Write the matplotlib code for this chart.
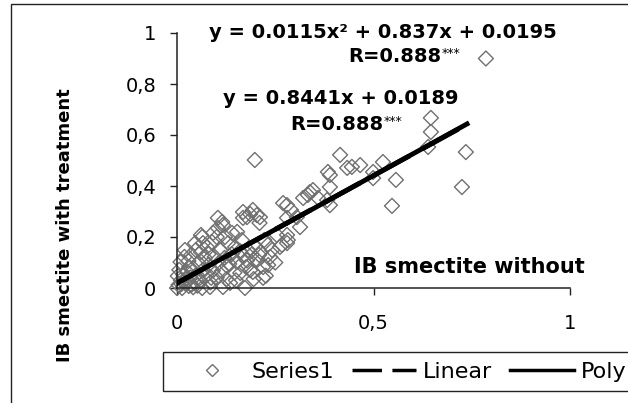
import numpy as np
import matplotlib
matplotlib.use("Agg")
import matplotlib.pyplot as plt
from matplotlib.lines import Line2D
from matplotlib.patches import Rectangle

# IB smectite: without treatment (x) vs with treatment (y)
ib_without = [
    0.786, 0.646, 0.646, 0.639, 0.735, 0.725, 0.557, 0.547, 0.524, 0.466,
    0.433, 0.499, 0.499, 0.415, 0.445, 0.384, 0.389, 0.389, 0.338, 0.346,
    0.321, 0.333, 0.382, 0.389, 0.359, 0.280, 0.270, 0.290, 0.280, 0.305,
    0.313, 0.280, 0.280, 0.254, 0.198, 0.193, 0.178, 0.211, 0.168, 0.186,
    0.203, 0.210, 0.168, 0.115, 0.104, 0.117,
    0.104, 0.092, 0.064, 0.061, 0.020, 0.140, 0.165, 0.148, 0.130, 0.122,
    0.153, 0.242, 0.267, 0.282, 0.262, 0.237, 0.219, 0.204, 0.193, 0.219,
    0.226, 0.161, 0.135, 0.117, 0.173, 0.084, 0.064, 0.087, 0.031, 0.066,
    0.048, 0.036, 0.046, 0.250, 0.232, 0.209, 0.186, 0.195, 0.150, 0.178,
    0.160, 0.142, 0.128,
    0.000, 0.004, 0.010, 0.016, 0.021, 0.026, 0.030, 0.034, 0.041, 0.046,
    0.050, 0.055, 0.059, 0.066, 0.071, 0.075, 0.081, 0.085, 0.091, 0.096,
    0.101, 0.106, 0.111, 0.114, 0.121, 0.126, 0.133, 0.139, 0.146, 0.152,
    0.170, 0.176, 0.181, 0.190, 0.199, 0.213, 0.222, 0.231, 0.009, 0.006,
    0.019, 0.002, 0.013, 0.041, 0.029, 0.061, 0.076, 0.089, 0.101, 0.080,
    0.011, 0.024, 0.037, 0.052,
]
ib_with = [
    0.900, 0.667, 0.612, 0.553, 0.533, 0.396, 0.424, 0.322, 0.494, 0.482,
    0.471, 0.455, 0.431, 0.522, 0.475, 0.455, 0.443, 0.396, 0.376, 0.384,
    0.353, 0.365, 0.345, 0.325, 0.353, 0.325, 0.333, 0.306, 0.275, 0.278,
    0.239, 0.208, 0.176, 0.208, 0.502, 0.306, 0.278, 0.278, 0.298, 0.290,
    0.286, 0.255, 0.275, 0.259, 0.275, 0.247,
    0.235, 0.216, 0.200, 0.208, 0.149, 0.216, 0.188, 0.161, 0.176, 0.200,
    0.220, 0.149, 0.169, 0.188, 0.161, 0.122, 0.082, 0.110, 0.063, 0.040,
    0.048, 0.059, 0.020, 0.004, 0.000, 0.004, 0.000, 0.040, 0.082, 0.176,
    0.149, 0.129, 0.176, 0.100, 0.090, 0.130, 0.070, 0.035, 0.030, 0.108,
    0.145, 0.118, 0.085,
    0.000, 0.012, 0.031, 0.052, 0.018, 0.063, 0.008, 0.041, 0.078, 0.021,
    0.052, 0.098, 0.029, 0.071, 0.118, 0.049, 0.092, 0.022, 0.068, 0.122,
    0.041, 0.098, 0.149, 0.066, 0.118, 0.035, 0.094, 0.133, 0.060, 0.102,
    0.125, 0.082, 0.149, 0.131, 0.161, 0.141, 0.188, 0.169, 0.102, 0.071,
    0.122, 0.047, 0.000, 0.003, 0.106, 0.141, 0.161, 0.180, 0.200, 0.133,
    0.016, 0.035, 0.013, 0.009,
]

# trendline coefficients as printed on the chart
linear_coef = [0.8441, 0.0189]
poly_coef = [0.0115, 0.837, 0.0195]
trend_range = [0.0, 0.738]

x_ticks = [0, 0.5, 1]
x_tick_labels = ["0", "0,5", "1"]
y_ticks = [0, 0.2, 0.4, 0.6, 0.8, 1]
y_tick_labels = ["0", "0,2", "0,4", "0,6", "0,8", "1"]

W, H = 628, 403


def fx(px):
    return px / W


def fy(py):
    return 1 - py / H


fig = plt.figure(figsize=(W / 100, H / 100), dpi=100)
fig.patch.set_facecolor("white")

# outer chart border (cropped on the right and bottom)
fig.add_artist(Rectangle((fx(11), -1), 2, 1 + fy(4), transform=fig.transFigure,
                         fill=False, edgecolor="#222222", linewidth=1))

ax = fig.add_axes([fx(177), 115 / H, 393 / W, 255 / H])
ax.set_xlim(0, 1)
ax.set_ylim(0, 1)
for side in ["top", "right"]:
    ax.spines[side].set_visible(False)
for side in ["left", "bottom"]:
    ax.spines[side].set_color("#222222")
    ax.spines[side].set_linewidth(1.1)

ax.scatter(ib_without, ib_with, marker="D", s=58, facecolors="none",
           edgecolors="#707070", linewidths=1.0, clip_on=False, zorder=2)

tx = np.linspace(trend_range[0], trend_range[1], 60)
ax.plot(tx, np.polyval(linear_coef, tx), color="black", lw=3.5,
        linestyle=(0, (8.5, 3)), zorder=3)
ax.plot(tx, np.polyval(poly_coef, tx), color="black", lw=3.5, zorder=3)

ax.set_xticks(x_ticks, x_tick_labels)
ax.set_yticks(y_ticks, y_tick_labels)
ax.tick_params(axis="both", direction="out", length=5, width=1,
               color="#222222", labelsize=14)
ax.tick_params(axis="x", pad=14)
ax.tick_params(axis="y", pad=10)

# axis titles
fig.text(fx(65), fy(225), "IB smectite with treatment", rotation=90,
         ha="center", va="center", fontsize=13, fontweight="bold")
fig.text(fx(469), fy(267), "IB smectite without", ha="center",
         va="center", fontsize=15, fontweight="bold")

# trendline equations
fig.text(fx(383), fy(32), "y = 0.0115x² + 0.837x + 0.0195", ha="center",
         va="center", fontsize=14, fontweight="bold")
fig.text(fx(441), fy(57), "R=0.888", ha="right", va="center",
         fontsize=14, fontweight="bold")
fig.text(fx(442), fy(53), "***", ha="left", va="center", fontsize=9)
fig.text(fx(341), fy(99), "y = 0.8441x + 0.0189", ha="center",
         va="center", fontsize=14, fontweight="bold")
fig.text(fx(383), fy(125), "R=0.888", ha="right", va="center",
         fontsize=14, fontweight="bold")
fig.text(fx(384), fy(121), "***", ha="left", va="center", fontsize=9)

# legend box, cut off on the right like the original
fig.add_artist(Rectangle((fx(163), fy(391)), 2, (391 - 352) / H,
                         transform=fig.transFigure, fill=False,
                         edgecolor="#222222", linewidth=1))
handles = [
    Line2D([], [], marker="D", ms=6, mfc="none", mec="#707070",
           linestyle="none"),
    Line2D([], [], color="black", lw=2.5, linestyle=(0, (8.5, 3))),
    Line2D([], [], color="black", lw=2.5),
]
fig.legend(handles, ["Series1", "Linear", "Poly"], ncol=3, frameon=False,
           loc="center left", bbox_to_anchor=(fx(180), fy(372)),
           fontsize=16, handlelength=2.9, handletextpad=0.3,
           columnspacing=0.8, borderpad=0, borderaxespad=0)

fig.savefig("out.png", dpi=100)
